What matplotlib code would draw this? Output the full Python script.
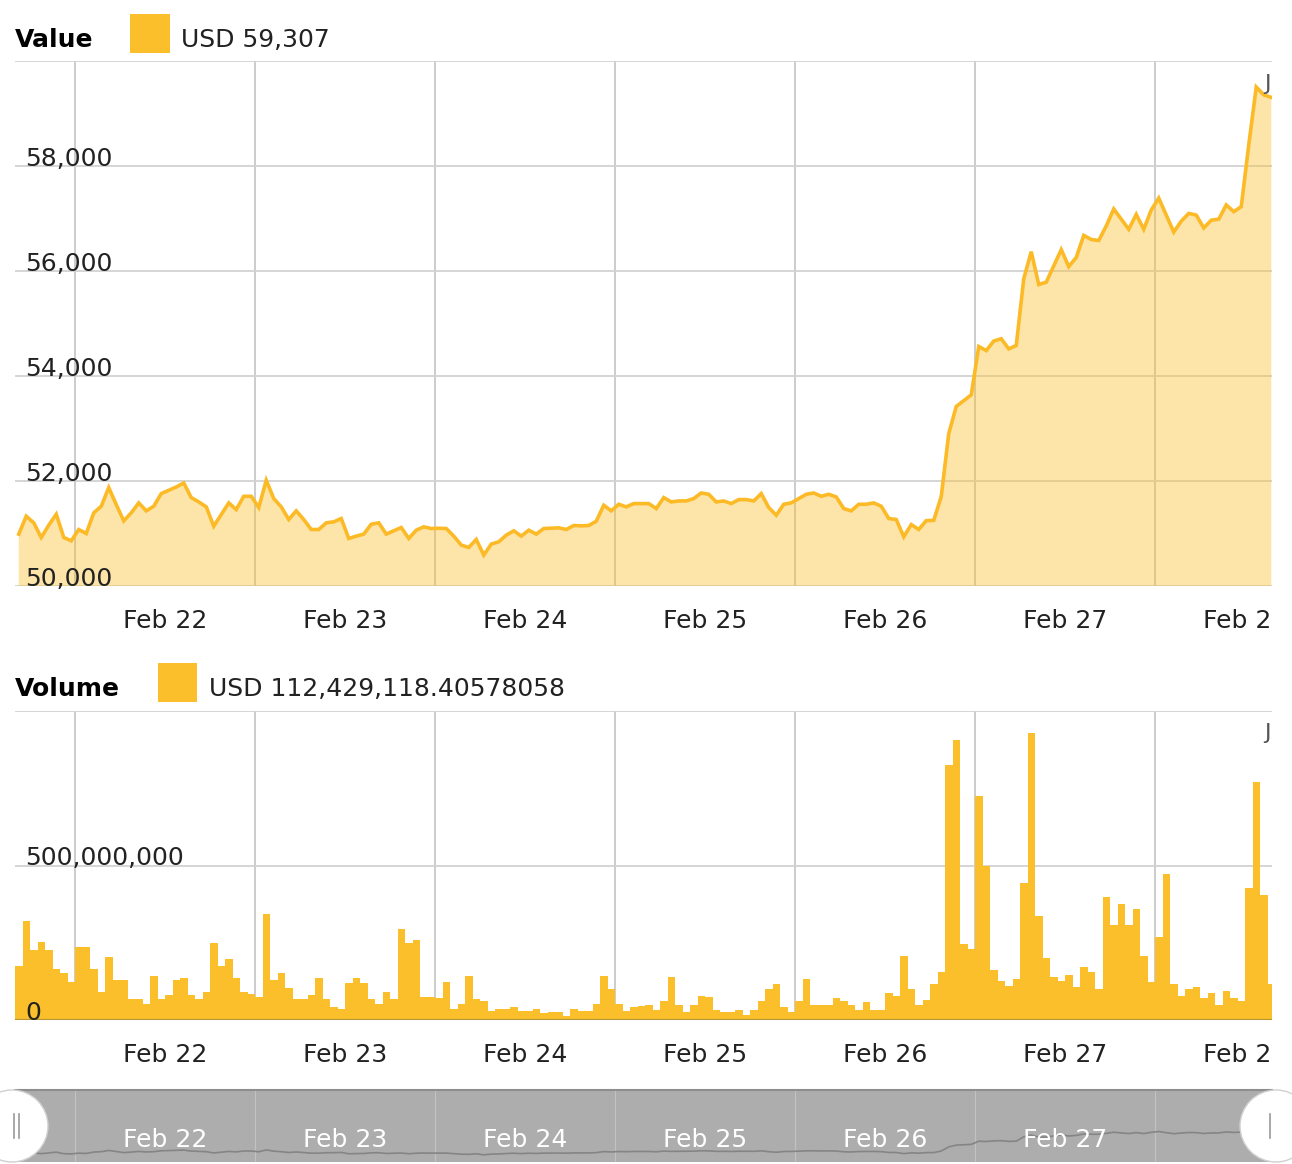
import numpy as np
import matplotlib
matplotlib.use("Agg")
from matplotlib import pyplot as plt
from matplotlib import transforms
from matplotlib.patches import Circle, Rectangle

FIG_W, FIG_H = 1292, 1164

# hourly buckets, hours counted from Feb 22 00:00
FIRST_HOUR = -8
X_END = 159.6
DAYS = ["Feb 22", "Feb 23", "Feb 24", "Feb 25", "Feb 26", "Feb 27", "Feb 28"]
PRICE_TICKS = [50000, 52000, 54000, 56000, 58000]
PRICE_TICK_LABELS = ["50,000", "52,000", "54,000", "56,000", "58,000"]
VOLUME_TICKS = [0, 500_000_000]
VOLUME_TICK_LABELS = ["0", "500,000,000"]
PRICE_LEGEND = "USD 59,307"
VOLUME_LEGEND = "USD 112,429,118.40578058"

# hourly price (USD)
PRICE = [
    50988, 51329, 51203, 50924, 51158, 51367, 50924, 50861, 51076, 51000, 51393, 51519,
    51874, 51550, 51241, 51393, 51583, 51431, 51519, 51760, 51823, 51886, 51962, 51684,
    51601, 51507, 51139, 51361, 51583, 51456, 51709, 51709, 51494, 52013, 51665, 51507,
    51266, 51431, 51266, 51076, 51076, 51203, 51222, 51285, 50905, 50950, 50988, 51177,
    51203, 50988, 51051, 51114, 50905, 51063, 51127, 51095, 51100, 51095, 50950, 50779,
    50734, 50886, 50589, 50798, 50842, 50968, 51051, 50950, 51063, 50988, 51095, 51101,
    51108, 51076, 51152, 51146, 51152, 51234, 51538, 51431, 51557, 51507, 51570, 51570,
    51570, 51475, 51684, 51601, 51620, 51620, 51665, 51772, 51747, 51601, 51620, 51570,
    51646, 51646, 51620, 51760, 51494, 51348, 51557, 51583, 51665, 51747, 51772, 51709,
    51747, 51696, 51475, 51431, 51557, 51557, 51583, 51519, 51285, 51266, 50937, 51170,
    51077, 51245, 51250, 51705, 52903, 53420, 53530, 53640, 54562, 54484, 54665, 54710,
    54516, 54581, 55852, 56368, 55742, 55787, 56097, 56407, 56084, 56258, 56678, 56600,
    56581, 56858, 57181, 56987, 56794, 57078, 56794, 57162, 57388, 57065, 56742, 56949,
    57097, 57065, 56820, 56968, 56987, 57259, 57130, 57226, 58400, 59504, 59355, 59307,
]

# hourly volume, millions of USD
VOLUME_M = [
    174, 321, 228, 252, 228, 166, 152, 122, 236, 236, 166, 92,
    204, 129, 129, 68, 68, 52, 143, 68, 82, 128, 136, 82,
    68, 90, 250, 174, 198, 136, 90, 84, 76, 342, 128, 151,
    105, 68, 68, 82, 136, 68, 43, 36, 120, 136, 120, 68,
    52, 90, 68, 296, 250, 258, 73, 76, 71, 122, 36, 52,
    143, 68, 62, 29, 36, 36, 43, 29, 29, 36, 22, 27,
    27, 14, 36, 29, 29, 52, 143, 100, 52, 29, 43, 45,
    50, 32, 63, 140, 50, 25, 50, 79, 73, 32, 25, 25,
    32, 17, 32, 63, 100, 117, 41, 25, 63, 133, 50, 50,
    50, 71, 63, 50, 32, 57, 32, 32, 86, 79, 208, 100,
    50, 65, 117, 154, 824, 905, 246, 230, 724, 497, 162, 125,
    111, 133, 443, 929, 335, 201, 140, 125, 147, 108, 171, 154,
    100, 397, 306, 376, 306, 360, 208, 122, 268, 473, 117, 79,
    100, 108, 71, 86, 50, 93, 71, 63, 428, 770, 406, 117,
]

GOLD = "#FBBF2C"
GRID = "#d2d2d2"
TEXT = "#222222"
FS = 18


def fx(px):
    return px / FIG_W


def fy(py):
    return 1 - py / FIG_H


def add_axes_px(left, top, right, bottom):
    return fig.add_axes([fx(left), fy(bottom), fx(right) - fx(left), (bottom - top) / FIG_H])


hours = FIRST_HOUR + np.arange(len(PRICE))
mids = hours + 0.5
volume = np.array(VOLUME_M) * 1e6
day_edges = np.arange(len(DAYS)) * 24
day_mids = day_edges + 12

fig = plt.figure(figsize=(FIG_W / 100, FIG_H / 100), dpi=100)
clip_box = transforms.TransformedBbox(transforms.Bbox.from_extents(0, 0, fx(1272), 1), fig.transFigure)


def base_style(ax, ylim, yticks, ylabels, label_y, corner_y):
    ax.set_xlim(FIRST_HOUR, X_END)
    ax.set_ylim(*ylim)
    for s in ax.spines.values():
        s.set_visible(False)
    ax.set_xticks([])
    ax.set_yticks([])
    for d in day_edges:
        ax.axvline(d, color="#c8c8c8", lw=1.3, zorder=0)
    for v in list(yticks) + [ylim[1]]:
        ax.axhline(v, color=GRID, lw=1.3, zorder=0)
    ytr = transforms.blended_transform_factory(ax.transAxes, ax.transData)
    for v, lab in zip(yticks, ylabels):
        ax.text(0.008, v, lab, transform=ytr, fontsize=FS, color=TEXT, va="baseline", ha="left", zorder=5)
    xtr = transforms.blended_transform_factory(ax.transData, fig.transFigure)
    for d, lab in zip(day_mids, DAYS):
        t = ax.text(d, fy(label_y), lab, transform=xtr, fontsize=FS, color=TEXT, ha="center", va="center", clip_on=True)
        t.set_clip_box(clip_box)
    # clipped label in the top right corner
    ax.text(0.9936, corner_y, "J", transform=ax.transAxes, fontsize=16, color="#555555",
            ha="left", va="center", clip_on=True, zorder=6)


# ---- value panel
ax1 = add_axes_px(15, 61, 1272, 586)
base_style(ax1, (50000, 60000), PRICE_TICKS, PRICE_TICK_LABELS, 621, 0.956)
ax1.fill_between(mids, PRICE, 0, color=GOLD, alpha=0.4, lw=0, zorder=1)
ax1.plot(mids, PRICE, color="#FBBA26", lw=2.6, zorder=3, solid_joinstyle="miter")

# ---- volume panel
ax2 = add_axes_px(15, 711, 1272, 1020)
base_style(ax2, (0, 1_000_000_000), VOLUME_TICKS, VOLUME_TICK_LABELS, 1055, 0.929)
ax2.bar(hours, volume, width=1.0, align="edge", color=GOLD, lw=0, zorder=2)
ax2.axhline(0, color="#b8952e", lw=1.6, zorder=4)

# ---- navigator
ax3 = add_axes_px(15, 1090, 1272, 1162)
ax3.set_xlim(FIRST_HOUR, X_END)
ax3.set_ylim(48500, 69500)
ax3.set_facecolor("#adadad")
for s in ax3.spines.values():
    s.set_visible(False)
ax3.spines["top"].set_visible(True)
ax3.spines["top"].set_color("#8e8e8e")
ax3.spines["top"].set_linewidth(1.5)
ax3.set_xticks([])
ax3.set_yticks([])
for d in day_edges:
    ax3.axvline(d, color="#c2c2c2", lw=0.8, zorder=1)
ax3.plot(mids, PRICE, color="#858585", lw=1.2, zorder=2)
ntr = transforms.blended_transform_factory(ax3.transData, fig.transFigure)
for d, lab in zip(day_mids[:-1], DAYS[:-1]):
    ax3.text(d, fy(1140), lab, transform=ntr, fontsize=FS, color="white", ha="center", va="center", zorder=3)

# ---- overlay: headers, legend squares, navigator handles
ov = fig.add_axes([0, 0, 1, 1])
ov.set_xlim(0, FIG_W)
ov.set_ylim(FIG_H, 0)
ov.axis("off")
ov.patch.set_alpha(0)

ov.text(15, 47, "Value", fontsize=FS, weight="bold", color="black", va="baseline")
ov.add_patch(Rectangle((130, 14), 40, 39, color=GOLD, lw=0))
ov.text(181, 47, PRICE_LEGEND, fontsize=FS, color=TEXT, va="baseline")

ov.text(15, 696, "Volume", fontsize=FS, weight="bold", color="black", va="baseline")
ov.add_patch(Rectangle((158, 663), 39, 39, color=GOLD, lw=0))
ov.text(209, 696, VOLUME_LEGEND, fontsize=FS, color=TEXT, va="baseline")

for cx, grips in [(12, [14, 19]), (1276, [1270])]:
    ov.add_patch(Circle((cx, 1126), 36, facecolor="white", edgecolor="#d0d0d0", lw=1.0, zorder=10))
    for gx in grips:
        ov.plot([gx, gx], [1114, 1138], color="#9a9a9a", lw=1.2, zorder=11)

fig.savefig("out.png", dpi=100)
